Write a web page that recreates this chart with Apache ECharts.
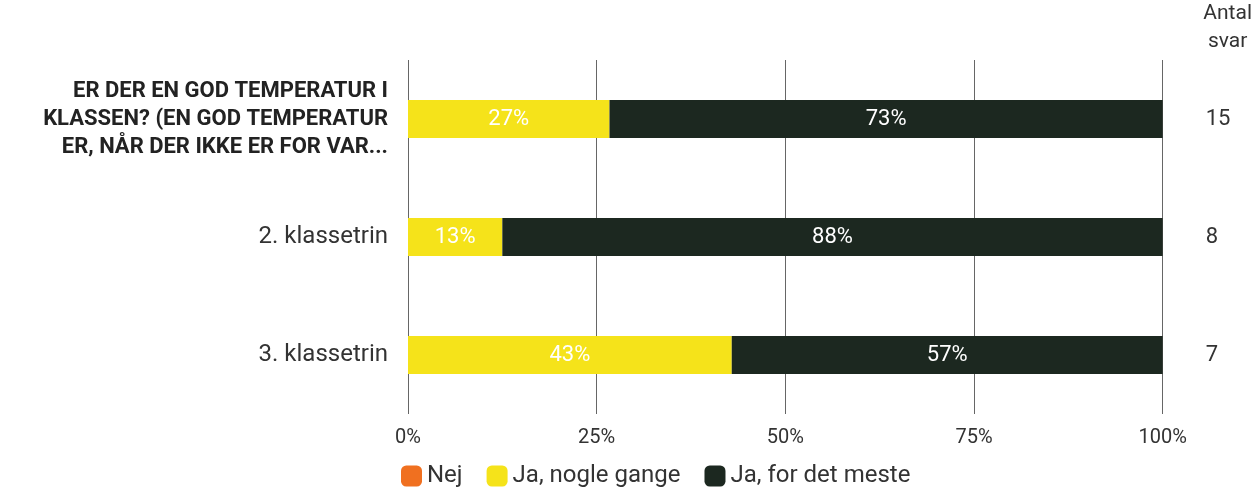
<!DOCTYPE html>
<html>
<head>
<meta charset="utf-8">
<script src="https://cdn.jsdelivr.net/npm/echarts@6/dist/echarts.min.js"></script>
<style>
  html, body { margin: 0; padding: 0; background: #fff; }
  #chart { width: 1255px; height: 495px; }
</style>
</head>
<body>
<div id="chart"></div>
<script>
const categories = [
  'ER DER EN GOD TEMPERATUR I\nKLASSEN? (EN GOD TEMPERATUR\nER, NÅR DER IKKE ER FOR VAR...',
  '2. klassetrin',
  '3. klassetrin'
]
const seriesNames = ['Nej', 'Ja, nogle gange', 'Ja, for det meste']
const nejValues = [0, 0, 0]
const nogleGangeValues = [26.7, 12.5, 42.9]
const detMesteValues = [73.3, 87.5, 57.1]
const antalSvar = [15, 8, 7]
const xTicks = [0, 25, 50, 75, 100]

const chart = echarts.init(document.getElementById('chart'))

const pctLabel = {
  show: true,
  position: 'inside',
  color: '#fff',
  fontSize: 22,
  fontFamily: 'Roboto',
  formatter: (p) => p.value > 0 ? Math.round(p.value) + '%' : ''
}

const option = {
  textStyle: { fontFamily: 'Roboto' },
  grid: { left: 408, right: 90, top: 57, bottom: 81 },
  legend: {
    left: 396,
    bottom: 2,
    itemWidth: 21,
    itemHeight: 21,
    itemGap: 24,
    itemTextGap: 6,
    icon: 'roundRect',
    textStyle: { fontSize: 24, color: '#333', fontFamily: 'Roboto' },
    data: seriesNames
  },
  xAxis: {
    type: 'value',
    min: 0,
    max: 100,
    interval: 25,
    axisLine: { show: false },
    axisTick: { show: false },
    axisLabel: {
      fontSize: 20,
      color: '#333',
      margin: 14,
      formatter: (v) => xTicks.includes(v) ? v + '%' : ''
    },
    splitLine: { lineStyle: { color: '#666', width: 1 } }
  },
  yAxis: [
    {
      type: 'category',
      data: categories,
      inverse: true,
      axisLine: { show: false },
      axisTick: { show: false },
      axisLabel: {
        margin: 20,
        align: 'right',
        formatter: (v, i) => i === 0 ? '{b|' + v + '}' : '{n|' + v + '}',
        rich: {
          b: { fontSize: 22, fontWeight: 'bold', color: '#222', lineHeight: 28, align: 'right' },
          n: { fontSize: 24, color: '#333', align: 'right' }
        }
      }
    },
    {
      type: 'category',
      data: antalSvar,
      inverse: true,
      position: 'right',
      name: 'Antal\nsvar',
      nameLocation: 'start',
      nameGap: 4,
      nameTextStyle: { fontSize: 21, color: '#333', align: 'center', lineHeight: 28, padding: [0, 0, 0, 130] },
      axisLine: { show: false },
      axisTick: { show: false },
      axisLabel: { fontSize: 22, color: '#333', margin: 43 }
    }
  ],
  series: [
    {
      name: seriesNames[0], type: 'bar', stack: 'total', barWidth: 38,
      itemStyle: { color: '#f07020' }, label: pctLabel, data: nejValues
    },
    {
      name: seriesNames[1], type: 'bar', stack: 'total', barWidth: 38,
      itemStyle: { color: '#f5e31a' }, label: pctLabel, data: nogleGangeValues
    },
    {
      name: seriesNames[2], type: 'bar', stack: 'total', barWidth: 38,
      itemStyle: { color: '#1c2820' }, label: pctLabel, data: detMesteValues
    }
  ]
}

chart.setOption(option)
window.addEventListener('resize', () => chart.resize())
</script>
</body>
</html>
